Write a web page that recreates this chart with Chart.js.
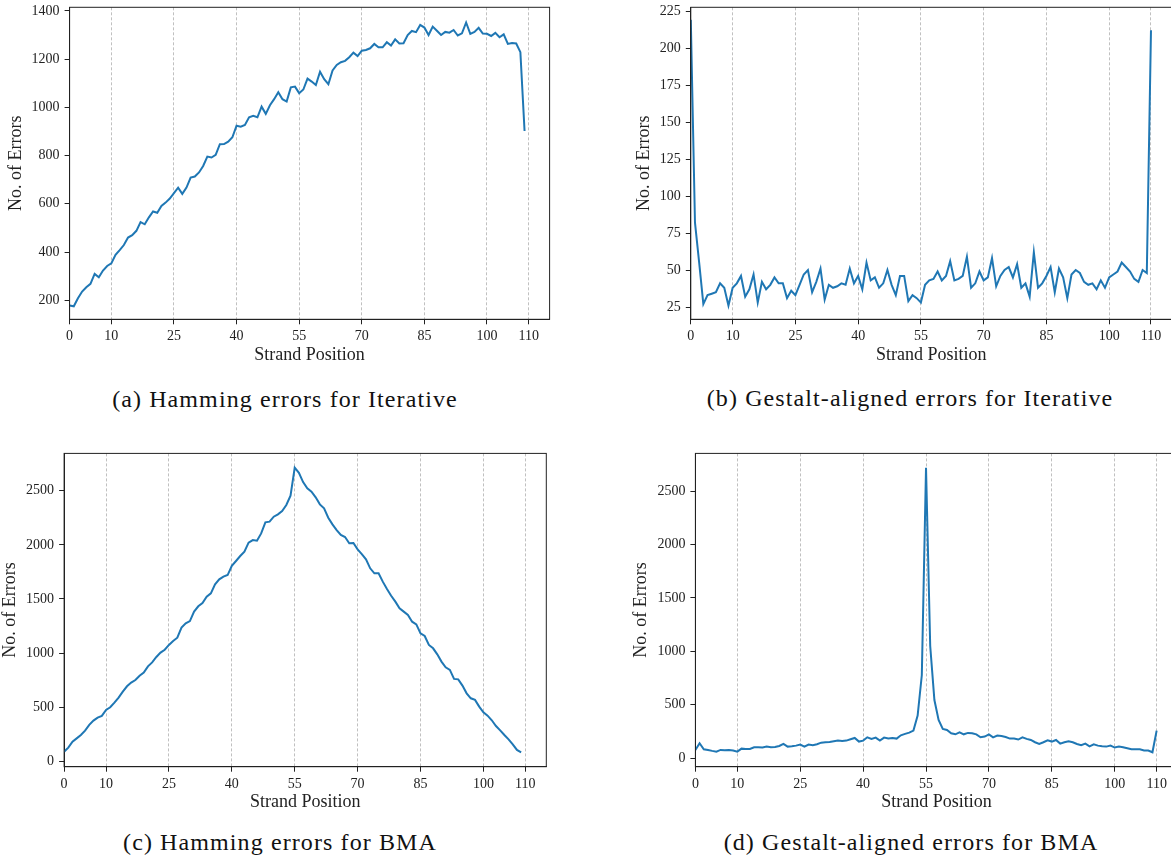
<!DOCTYPE html>
<html>
<head>
<meta charset="utf-8">
<script src="https://cdn.jsdelivr.net/npm/chart.js@4.4.0/dist/chart.umd.min.js"></script>
<style>
  html, body { margin: 0; padding: 0; background: #fff; overflow: hidden; }
  body { width: 1171px; height: 859px; position: relative; }
  canvas { position: absolute; }
  .cap { position: absolute; font-family: "Liberation Serif", serif; font-size: 24px; letter-spacing: 1.1px;
         color: #111; white-space: nowrap; transform: translate(-50%, -50%); }
</style>
</head>
<body>
<canvas id="ca" width="560" height="385" style="left:0;top:-10px"></canvas>
<canvas id="cb" width="590" height="385" style="left:600px;top:-10px"></canvas>
<canvas id="cc" width="560" height="380" style="left:0;top:440px"></canvas>
<canvas id="cd" width="590" height="380" style="left:600px;top:440px"></canvas>
<div class="cap" style="left:285px;top:399px">(a) Hamming errors for Iterative</div>
<div class="cap" style="left:910px;top:398px">(b) Gestalt-aligned errors for Iterative</div>
<div class="cap" style="left:280px;top:842px">(c) Hamming errors for BMA</div>
<div class="cap" style="left:911px;top:842px">(d) Gestalt-aligned errors for BMA</div>
<script>
  // x tick labels shared by all four plots
  const xTicks = [0, 10, 25, 40, 55, 70, 85, 100, 110];

  // (a) Hamming errors for Iterative, positions 0..109
  const hammingIterative = [178, 175, 208, 236, 254, 268, 309, 295, 323, 342,
    353, 388, 408, 429, 460, 470, 488, 524, 515, 544,
    568, 563, 591, 605, 622, 644, 667, 641, 667, 709,
    713, 730, 757, 796, 792, 803, 847, 848, 858, 876,
    924, 920, 927, 959, 965, 959, 1003, 973, 1009, 1034,
    1063, 1034, 1024, 1083, 1086, 1059, 1074, 1119, 1107, 1093,
    1148, 1117, 1096, 1153, 1176, 1187, 1193, 1208, 1227, 1213,
    1235, 1238, 1245, 1263, 1249, 1249, 1270, 1256, 1282, 1265,
    1266, 1300, 1317, 1312, 1342, 1331, 1300, 1335, 1318, 1300,
    1313, 1310, 1321, 1298, 1307, 1352, 1305, 1313, 1330, 1306,
    1305, 1296, 1309, 1291, 1303, 1263, 1267, 1265, 1229, 902];

  // (b) Gestalt-aligned errors for Iterative, positions 0..110
  const gestaltIterative = [219, 82, 55, 27, 33, 34, 35, 41, 38, 26,
    38, 41, 46, 32, 37, 47, 28, 42, 37, 40,
    45, 41, 41, 31, 36, 33, 40, 47, 50, 35,
    42, 51, 30, 40, 38, 39, 41, 40, 51, 41,
    46, 37, 55, 43, 45, 38, 41, 50, 40, 33,
    46, 46, 29, 33, 31, 28, 40, 43, 44, 49,
    43, 46, 56, 43, 44, 46, 59, 38, 41, 49,
    43, 45, 58, 39, 46, 50, 52, 45, 54, 38,
    41, 32, 62, 38, 41, 46, 52, 35, 51, 45,
    31, 47, 50, 48, 42, 40, 41, 37, 43, 38,
    45, 47, 49, 55, 52, 49, 44, 42, 50, 48, 212];

  // (c) Hamming errors for BMA, positions 0..109
  const hammingBMA = [89, 126, 182, 212, 243, 283, 336, 376, 403, 419,
    474, 499, 542, 588, 643, 693, 727, 751, 791, 819,
    877, 914, 964, 1004, 1031, 1075, 1112, 1142, 1235, 1275,
    1296, 1383, 1432, 1463, 1521, 1552, 1635, 1681, 1706, 1721,
    1807, 1851, 1897, 1937, 2020, 2044, 2038, 2106, 2208, 2214,
    2260, 2282, 2312, 2368, 2454, 2713, 2665, 2580, 2522, 2491,
    2439, 2374, 2337, 2251, 2189, 2137, 2091, 2072, 2014, 2017,
    1958, 1915, 1866, 1783, 1737, 1737, 1660, 1592, 1530, 1475,
    1413, 1383, 1352, 1290, 1265, 1182, 1158, 1075, 1044, 988,
    921, 868, 844, 761, 757, 699, 628, 582, 567, 505,
    453, 422, 379, 326, 286, 243, 203, 157, 105, 83];

  // (d) Gestalt-aligned errors for BMA, positions 0..110
  const gestaltBMA = [78, 140, 84, 78, 69, 62, 78, 75, 78, 72,
    62, 90, 87, 87, 103, 103, 100, 109, 103, 106,
    115, 134, 109, 112, 118, 128, 109, 128, 122, 131,
    146, 150, 153, 159, 165, 162, 165, 178, 190, 156,
    165, 196, 181, 193, 165, 193, 184, 190, 184, 215,
    228, 240, 259, 399, 779, 2718, 1050, 545, 358, 274,
    265, 234, 224, 243, 224, 237, 234, 224, 196, 203,
    224, 196, 212, 209, 199, 184, 184, 175, 196, 181,
    171, 150, 134, 150, 168, 156, 171, 137, 150, 159,
    150, 134, 122, 137, 112, 131, 118, 112, 109, 118,
    100, 109, 103, 94, 84, 84, 84, 72, 72, 56, 259];

  const yTicksA = [200, 400, 600, 800, 1000, 1200, 1400];
  const yTicksB = [25, 50, 75, 100, 125, 150, 175, 200, 225];
  const yTicksCD = [0, 500, 1000, 1500, 2000, 2500];

  const serif = '"Liberation Serif", "Times New Roman", serif';
  const tickFont = { family: serif, size: 14 };
  const titleFont = { family: serif, size: 18, lineHeight: 1 };

  const frame = {
    id: 'frame',
    afterDraw(chart) {
      const { ctx, chartArea: a } = chart;
      ctx.save();
      ctx.setLineDash([]);
      ctx.strokeStyle = '#222';
      ctx.lineWidth = 1;
      ctx.strokeRect(a.left, a.top, a.right - a.left, a.bottom - a.top);
      ctx.restore();
    }
  };

  function plot(id, values, yTicks, yRange, box) {
    new Chart(document.getElementById(id), {
      type: 'line',
      data: {
        datasets: [{
          data: values.map((v, i) => ({ x: i, y: v })),
          borderColor: '#1f77b4',
          borderWidth: 2,
          pointRadius: 0,
          tension: 0,
          fill: false
        }]
      },
      options: {
        responsive: false,
        animation: false,
        events: [],
        layout: { padding: { top: box.top, right: box.right, bottom: 0, left: 0 } },
        plugins: { legend: { display: false }, tooltip: { enabled: false } },
        scales: {
          x: {
            type: 'linear', min: 0, max: 115,
            afterBuildTicks: s => { s.ticks = xTicks.map(v => ({ value: v })); },
            afterFit: s => { s.height = box.xh; },
            grid: { color: '#b0b0b0', lineWidth: 0.8, borderDash: [3, 2], tickLength: 5,
                    tickColor: '#222', tickWidth: 1, tickBorderDash: [] },
            border: { display: true, color: '#222', width: 1, dash: [3, 2] },
            ticks: { font: tickFont, color: '#222', padding: 4, maxRotation: 0, autoSkip: false,
                     callback: v => String(v) },
            title: { display: true, text: 'Strand Position', font: titleFont, color: '#222',
                     padding: { top: 0, bottom: box.xpb } }
          },
          y: {
            min: yRange[0], max: yRange[1],
            afterBuildTicks: s => { s.ticks = yTicks.map(v => ({ value: v })); },
            afterFit: s => { s.width = box.yw; },
            grid: { drawOnChartArea: false, tickLength: 5, tickColor: '#222', tickWidth: 1 },
            border: { display: true, color: '#222', width: 1 },
            ticks: { font: tickFont, color: '#222', padding: 5, callback: v => String(v) },
            title: { display: true, text: 'No. of Errors', font: titleFont, color: '#222',
                     padding: { top: box.ypt, bottom: 0 } }
          }
        }
      },
      plugins: [frame]
    });
  }

  plot('ca', hammingIterative, yTicksA, [121, 1415], { top: 17.3, right: 10.4, xh: 55.7, xpb: 10.5, yw: 69.6, ypt: 7 });
  plot('cb', gestaltIterative, yTicksB, [16.7, 227.5], { top: 17.3, right: 18.1, xh: 55.7, xpb: 10.5, yw: 90.8, ypt: 35.4 });
  plot('cc', hammingBMA, yTicksCD, [-50, 2845], { top: 13.3, right: 13.7, xh: 53.3, xpb: 9, yw: 64.1, ypt: 1.5 });
  plot('cd', gestaltBMA, yTicksCD, [-79, 2852], { top: 13.3, right: 12.4, xh: 53.3, xpb: 9, yw: 95.4, ypt: 32 });
</script>
</body>
</html>
